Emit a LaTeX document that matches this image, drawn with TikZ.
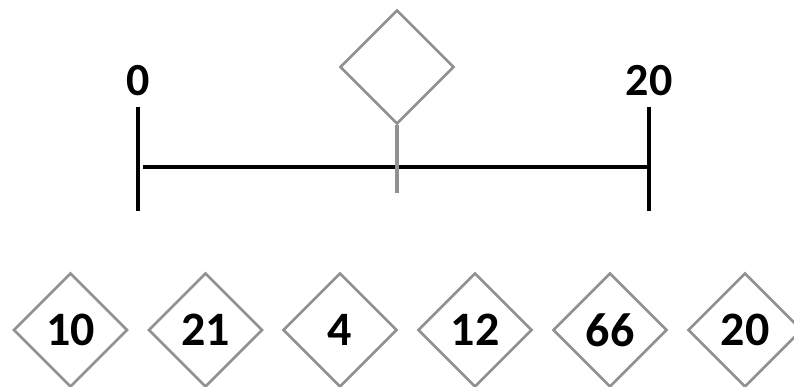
\documentclass[tikz,border=0pt]{standalone}
\usepackage{fontspec}
\setmainfont{Carlito}[BoldFont={Carlito Bold}]
\usetikzlibrary{shapes.geometric}
\definecolor{dgray}{RGB}{145,145,145}
\tikzset{
  dia/.style={diamond, draw=dgray, line width=2.6pt, minimum width=114pt, minimum height=114pt, inner sep=0pt, aspect=1, font=\fontsize{48}{48}\selectfont\bfseries},
  lbl/.style={font=\fontsize{46}{46}\selectfont\bfseries, inner sep=0pt},
  blk/.style={line width=4pt, black},
  stem/.style={line width=4pt, dgray}
}
\begin{document}
\begin{tikzpicture}[x=1pt,y=-1pt]
\useasboundingbox (0,0) rectangle (794,387);
% scale
\coordinate (lt) at (138,107);
\coordinate (lb) at (138,211);
\coordinate (rt) at (649,107);
\coordinate (rb) at (649,211);
\coordinate (hl) at (143,167);
\coordinate (hr) at (649,167);
\draw[blk] (lt) -- (lb);
\draw[blk] (rt) -- (rb);
\draw[blk] (hl) -- (hr);
\node[lbl] (l0) at (138,81) {0};
\node[lbl] (l20) at (649,81) {20};
% marker
\node[dia] (top) at (397,67) {};
\coordinate (stemend) at (397,193);
\draw[stem] (top.south) -- (stemend);
% values
\node[dia] (d1) at (70.5,330) {10};
\node[dia] (d2) at (205.5,330) {21};
\node[dia] (d3) at (340,330) {4};
\node[dia] (d4) at (475,330) {12};
\node[dia] (d5) at (610,330) {66};
\node[dia] (d6) at (745,330) {20};
\end{tikzpicture}
\end{document}
